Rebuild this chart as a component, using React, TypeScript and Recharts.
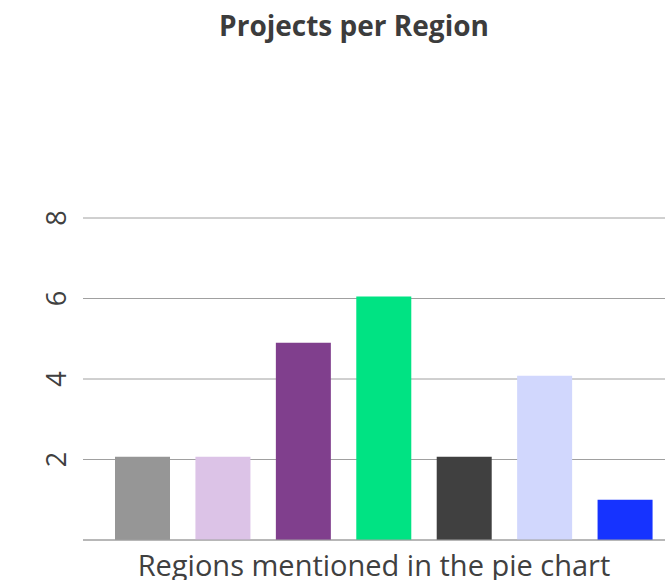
import React from 'react';
import { BarChart, Bar, XAxis, YAxis, CartesianGrid, Cell } from 'recharts';

// regions are not labelled in the picture, only coloured
const regions = ['Region 1', 'Region 2', 'Region 3', 'Region 4', 'Region 5', 'Region 6', 'Region 7'];
const projects = [2.07, 2.07, 4.9, 6.05, 2.07, 4.08, 1.0];
const barColors = ['#969696', '#dcc3e7', '#803f8d', '#00e383', '#404040', '#d1d7fd', '#1633ff'];
const yTicks = [2, 4, 6, 8];

const data = regions.map((name, i) => ({ name, value: projects[i] }));

const FONT = '"Open Sans", Roboto, sans-serif';

const RotatedTick = (props: any) => {
  const { y, payload } = props;
  const x = 66;
  return (
    <text
      x={x}
      y={y}
      transform={`rotate(-90, ${x}, ${y})`}
      textAnchor="middle"
      fill="#404040"
      fontSize={27}
      fontFamily={FONT}
    >
      {payload.value}
    </text>
  );
};

export default function App() {
  return (
    <div style={{ position: 'absolute', left: 0, top: 0, width: 665, height: 580, background: '#fff' }}>
      <div
        style={{
          position: 'absolute',
          left: 154,
          width: 400,
          top: 6,
          lineHeight: '38px',
          textAlign: 'center',
          fontFamily: FONT,
          fontWeight: 'bold',
          fontSize: 28,
          color: '#3c3c3c',
        }}
      >
        Projects per Region
      </div>
      <BarChart width={665} height={580} data={data} margin={{ top: 218, right: 0, left: 0, bottom: 0 }}>
        <CartesianGrid vertical={false} stroke="#a0a0a0" />
        <XAxis
          dataKey="name"
          tick={false}
          tickLine={false}
          height={40}
          padding={{ left: 19, right: 0 }}
          axisLine={{ stroke: '#a0a0a0' }}
          label={{
            value: 'Regions mentioned in the pie chart',
            position: 'insideBottom',
            offset: 4,
            fill: '#404040',
            fontSize: 29,
            fontFamily: FONT,
          }}
        />
        <YAxis
          width={83}
          domain={[0, 8]}
          ticks={yTicks}
          axisLine={false}
          tickLine={false}
          tick={<RotatedTick />}
        />
        <Bar dataKey="value" barSize={55} isAnimationActive={false}>
          {data.map((d, i) => (
            <Cell key={d.name} fill={barColors[i]} />
          ))}
        </Bar>
      </BarChart>
    </div>
  );
}
